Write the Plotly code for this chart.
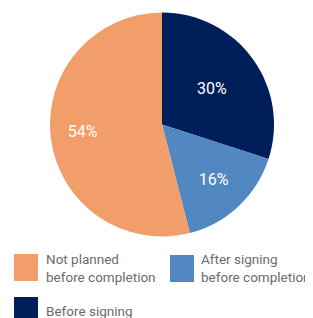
import plotly.graph_objects as go

labels = ["Before signing", "After signing<br>before completion", "Not planned<br>before completion"]
values = [30, 16, 54]
colors = ["#001F5A", "#5288C1", "#F29E6B"]

# page body has an 8px margin: draw in a 305x310 figure, offset coordinates by 8
OFF = 8
W, H = 313 - OFF, 318 - OFF
FONT = "Roboto, sans-serif"


def px(x):
    return (x - OFF) / W


def py(y):
    return 1 - (y - OFF) / H


fig = go.Figure()
fig.add_trace(go.Pie(
    labels=labels, values=values, sort=False, direction="clockwise", rotation=0,
    marker=dict(colors=colors, line=dict(width=0)),
    texttemplate=["%{percent:.0%}", "%{percent:.0%}",
                  "%{percent:.0%}" + "&nbsp;" * 12],
    textposition="inside", insidetextorientation="horizontal",
    textfont=dict(color="white", size=16, family=FONT),
    domain=dict(x=[px(50), px(274)], y=[py(237), py(12)]),
    showlegend=False, hoverinfo="label+percent",
))

# legend: (square x0, y0, text x, text y-center, label index)
legend_pos = [(14, 254, 44, 268, 2), (170, 255, 199, 268, 1), (14, 297, 44, 311, 0)]
shapes, annotations = [], []
for sx, sy, tx, ty, i in legend_pos:
    shapes.append(dict(type="rect", xref="paper", yref="paper",
                       x0=px(sx), x1=px(sx + 24), y0=py(sy + 27), y1=py(sy),
                       fillcolor=colors[i], line=dict(width=0)))
    annotations.append(dict(text=labels[i], xref="paper", yref="paper", x=px(tx), y=py(ty),
                            xanchor="left", yanchor="middle", showarrow=False, align="left",
                            font=dict(family=FONT, size=13.5, color="#6b6b6b")))

fig.update_layout(width=W, height=H, margin=dict(l=0, r=0, t=0, b=0),
                  paper_bgcolor="white", plot_bgcolor="white",
                  shapes=shapes, annotations=annotations)
fig.write_html("out.html")
